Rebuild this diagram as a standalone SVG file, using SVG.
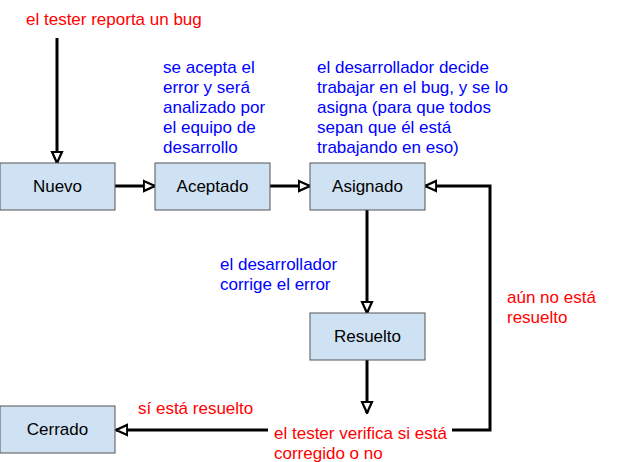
<svg xmlns="http://www.w3.org/2000/svg" width="624" height="462" viewBox="0 0 624 462">
<style>
.n{fill:#cfe2f3;stroke:#555;stroke-width:1}
.t{font-family:"Liberation Sans",Arial,sans-serif;font-size:17px}
.c{fill:none;stroke:#000;stroke-width:3;marker-end:url(#a)}
.r{fill:#f00}.b{fill:#00f}
</style>
<defs><marker id="a" viewBox="0 0 12 12" refX="11" refY="6" markerWidth="4.5" markerHeight="4.5" orient="auto" markerUnits="strokeWidth"><path d="M1,1.5L11,6L1,10.5Z" fill="#fff" stroke="#000" stroke-width="2"/></marker></defs>
<rect width="624" height="462" fill="#fff"/>
<g id="connectors">
<path class="c" d="M57,38V163"/>
<path class="c" d="M115,186H155"/>
<path class="c" d="M270,186H310"/>
<path class="c" d="M367,210V313"/>
<path class="c" d="M367,360V413"/>
<path class="c" d="M452,430H490V186H425"/>
<path class="c" d="M268,430H116"/>
</g>
<g id="nuevo"><rect class="n" x="0" y="163" width="115" height="47"/><text class="t" x="57.5" y="192" text-anchor="middle">Nuevo</text></g>
<g id="aceptado"><rect class="n" x="155" y="163" width="115" height="47"/><text class="t" x="212.5" y="192" text-anchor="middle">Aceptado</text></g>
<g id="asignado"><rect class="n" x="310" y="163" width="115" height="47"/><text class="t" x="367.5" y="192" text-anchor="middle">Asignado</text></g>
<g id="resuelto"><rect class="n" x="310" y="313" width="115" height="47"/><text class="t" x="367.5" y="342" text-anchor="middle">Resuelto</text></g>
<g id="cerrado"><rect class="n" x="0" y="406" width="115" height="47"/><text class="t" x="57.5" y="435" text-anchor="middle">Cerrado</text></g>
<text class="t r" x="26" y="25">el tester reporta un bug</text>
<text class="t b"><tspan x="163" y="73">se acepta el</tspan><tspan x="163" y="93">error y será</tspan><tspan x="163" y="113">analizado por</tspan><tspan x="163" y="133">el equipo de</tspan><tspan x="163" y="153">desarrollo</tspan></text>
<text class="t b"><tspan x="317" y="73">el desarrollador decide</tspan><tspan x="317" y="93">trabajar en el bug, y se lo</tspan><tspan x="317" y="113">asigna (para que todos</tspan><tspan x="317" y="133">sepan que él está</tspan><tspan x="317" y="153">trabajando en eso)</tspan></text>
<text class="t b"><tspan x="220" y="270">el desarrollador</tspan><tspan x="220" y="290">corrige el error</tspan></text>
<text class="t r"><tspan x="507" y="303">aún no está</tspan><tspan x="507" y="323">resuelto</tspan></text>
<text class="t r" x="138" y="414">sí está resuelto</text>
<text class="t r"><tspan x="274" y="439">el tester verifica si está</tspan><tspan x="274" y="459">corregido o no</tspan></text>
</svg>
